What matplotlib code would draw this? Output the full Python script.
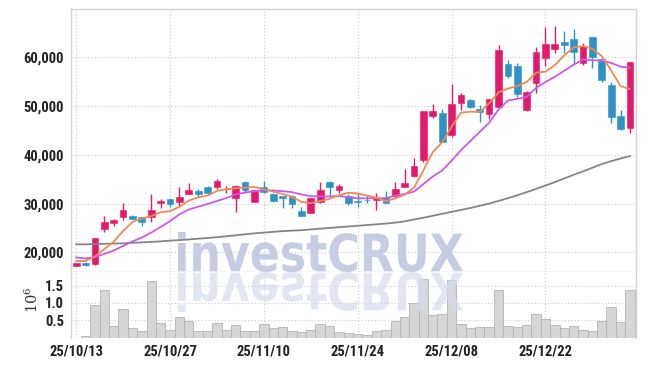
import numpy as np
import matplotlib
matplotlib.use('Agg')
import matplotlib.pyplot as plt
from matplotlib import font_manager as fm
from matplotlib.textpath import TextPath
from matplotlib.patches import PathPatch
from matplotlib.font_manager import FontProperties
from matplotlib.transforms import Affine2D

# ---------------- data ----------------
tick_idx = [0, 10, 20, 30, 40, 50]
tick_labels = ['25/10/13', '25/10/27', '25/11/10', '25/11/24', '25/12/08', '25/12/22']

opens = [17250, 17880, 17700, 24850, 26100, 27300, 27450, 27200, 27200, 30200,
         30850, 30400, 32050, 32600, 33450, 33350, 32900, 31050, 34350, 30400,
         33450, 31950, 31550, 31550, 28450, 28150, 30250, 34500, 32800, 31550,
         30500, 30750, 30750, 31400, 31550, 33350, 35650, 38950, 48050, 48550,
         44050, 50550, 51250, 49300, 48300, 49900, 58600, 58200, 49200, 54800,
         59950, 61750, 63050, 63750, 58750, 64100, 59650, 54300, 47950, 45450]
highs = [17900, 17950, 22900, 27450, 26750, 30050, 27650, 27300, 31950, 30850,
         30900, 33450, 34300, 32900, 33650, 34950, 33600, 33800, 34700, 32850,
         34700, 32250, 31650, 31750, 29250, 31200, 34400, 34550, 34000, 31900,
         32100, 31750, 32100, 32600, 34350, 37000, 39300, 49000, 50350, 49350,
         54500, 52600, 51500, 50200, 51500, 62500, 59450, 58900, 53100, 62050,
         66150, 66400, 65450, 65750, 62850, 64100, 59700, 55000, 49200, 59000]
lows = [17100, 17200, 17450, 24100, 25400, 26650, 26750, 25400, 26150, 29000,
        29350, 29550, 32000, 31400, 32150, 32900, 32100, 28350, 32100, 30300,
        32100, 30350, 29050, 29150, 27500, 28000, 30200, 31400, 32100, 29700,
        29250, 30050, 28600, 30100, 31400, 33300, 35400, 38600, 47500, 42550,
        43700, 49200, 49550, 46800, 47350, 49700, 55700, 51800, 49000, 52750,
        58300, 60800, 60800, 58550, 58400, 57750, 55000, 46450, 45100, 44400]
closes = [17800, 17470, 22850, 26200, 26600, 28700, 26900, 26300, 28700, 30500,
          29850, 31300, 32700, 32050, 32250, 34700, 33050, 33600, 32800, 32800,
          32450, 30550, 31200, 30000, 27550, 31050, 32800, 33450, 33600, 30200,
          30350, 30650, 31200, 30200, 32900, 34300, 37700, 49000, 48950, 42700,
          50400, 52250, 49900, 48850, 51450, 61500, 56250, 52450, 52950, 61000,
          62700, 62750, 62500, 61150, 62300, 60000, 55350, 47700, 45300, 58950]
# volume in millions of shares
volume_m = [0.0, 0.03, 0.93, 1.36, 0.32, 0.81, 0.26, 0.18, 1.64, 0.43,
            0.23, 0.58, 0.49, 0.20, 0.18, 0.43, 0.23, 0.35, 0.18, 0.18,
            0.38, 0.26, 0.29, 0.20, 0.17, 0.23, 0.38, 0.32, 0.15, 0.14,
            0.10, 0.08, 0.18, 0.23, 0.47, 0.58, 1.00, 1.70, 0.64, 0.67,
            1.67, 0.40, 0.26, 0.29, 0.29, 1.36, 0.32, 0.29, 0.35, 0.69,
            0.54, 0.35, 0.26, 0.32, 0.23, 0.20, 0.49, 0.89, 0.46, 1.36]
# closes of the 9 sessions before the first one shown (for the moving averages)
prior_closes = [19500, 19800, 20000, 19600, 19300, 17700, 18200, 18600, 19000]
# 60-day moving average
ma60 = [21650, 21650, 21700, 21750, 21800, 21850, 21950, 22050, 22150, 22250,
        22400, 22500, 22650, 22800, 22950, 23100, 23300, 23500, 23700, 23900,
        24050, 24200, 24350, 24450, 24550, 24700, 24850, 25000, 25150, 25300,
        25450, 25600, 25750, 25900, 26100, 26350, 26750, 27100, 27500, 27900,
        28300, 28700, 29100, 29550, 30000, 30550, 31100, 31700, 32350, 33000,
        33700, 34400, 35150, 35900, 36600, 37350, 38100, 38700, 39250, 39750]

# ---------------- derived ----------------
n = len(closes)
x = np.arange(n)
allc = np.array(prior_closes + closes, dtype=float)
def sma(arr, w):
    return np.convolve(arr, np.ones(w) / w, mode='valid')
off = len(prior_closes)
ma5 = sma(allc, 5)[off - 4:]
ma10 = sma(allc, 10)[off - 9:]

UP = '#e3196b'
DOWN = '#2e92c6'
C_MA5 = '#ef8a52'
C_MA10 = '#cd58ea'
C_MA60 = '#858585'
GRID = '#c9c9d9'
SPINE = '#d4d4d4'
TXT = '#222222'

# choose a condensed face if one is installed
cands = [('Roboto Condensed', 'normal', 10.5), ('DejaVu Sans', 'condensed', 10.0),
         ('Liberation Sans Narrow', 'normal', 10.5), ('Liberation Sans', 'normal', 9.0)]
tick_fp = None
for famname, stretch, size in cands:
    fp = FontProperties(family=famname, weight='bold', stretch=stretch, size=size)
    try:
        path = fm.findfont(fp, fallback_to_default=False)
    except Exception:
        continue
    low = path.lower()
    if stretch == 'condensed' and 'condensed' not in low:
        continue
    if famname == 'Roboto Condensed' and 'condensed' not in low:
        continue
    if famname == 'Liberation Sans Narrow' and 'narrow' not in low:
        continue
    tick_fp = FontProperties(fname=path, size=size)
    break

W, H = 645, 366
fig = plt.figure(figsize=(W / 100, H / 100), dpi=100)
L, R = 71, 636
ax = fig.add_axes([L / W, (H - 272) / H, (R - L) / W, (272 - 9) / H])
axv = fig.add_axes([L / W, (H - 337.5) / H, (R - L) / W, (337.5 - 272) / H], sharex=ax)

# candles
o = np.array(opens, float); c = np.array(closes, float)
hi = np.array(highs, float); lo = np.array(lows, float)
cols = [UP if cc >= oo else DOWN for oo, cc in zip(o, c)]
ax.vlines(x, lo, hi, colors=cols, linewidth=1.0, zorder=3)
body_bottom = np.minimum(o, c)
body_h = np.maximum(np.abs(c - o), 120)
ax.bar(x, body_h, bottom=body_bottom, width=0.72, color=cols, edgecolor=cols,
       linewidth=0.4, zorder=4)

ax.plot(x, ma60, color=C_MA60, lw=1.3, zorder=5)
ax.plot(x, ma10, color=C_MA10, lw=1.3, zorder=5)
ax.plot(x, ma5, color=C_MA5, lw=1.3, zorder=5)

ax.set_xlim(-0.55, 59.65)
ax.set_ylim(15970, 69900)
yt = [20000, 30000, 40000, 50000, 60000]
ax.set_yticks(yt)
ax.set_yticklabels([f'{v:,}' for v in yt])
ax.set_xticks(tick_idx)
ax.tick_params(axis='x', labelbottom=False, length=0)
ax.tick_params(axis='y', length=0, pad=5, labelcolor=TXT)
ax.grid(True, color=GRID, linestyle=(0, (1, 2)), linewidth=0.8)
ax.set_axisbelow(True)
for s in ax.spines.values():
    s.set_color(SPINE)
    s.set_linewidth(1.0)

# volume
axv.bar(x, volume_m, width=1.0, color='#d6d6d6', edgecolor='#b4b4b4', linewidth=0.6, zorder=2)
axv.set_ylim(0, 1.89)
axv.set_yticks([0.5, 1.0, 1.5])
axv.set_yticklabels(['0.5', '1.0', '1.5'])
axv.set_xticks(tick_idx)
axv.set_xticklabels(tick_labels)
axv.tick_params(axis='both', length=0, labelcolor=TXT)
axv.tick_params(axis='y', pad=5)
axv.tick_params(axis='x', pad=5)
axv.grid(True, color=GRID, linestyle=(0, (1, 2)), linewidth=0.8)
axv.set_axisbelow(True)
for s in axv.spines.values():
    s.set_color(SPINE)
    s.set_linewidth(1.0)
axv.spines['bottom'].set_visible(False)
axv.spines['top'].set_visible(False)

for lab in ax.get_yticklabels() + axv.get_yticklabels() + axv.get_xticklabels():
    if tick_fp is not None:
        lab.set_fontproperties(tick_fp)
    else:
        lab.set_fontsize(9)
        lab.set_fontweight('bold')

fig.text(32 / W, 1 - 300 / H, r'$10^{6}$', rotation=90, ha='center', va='center',
         fontsize=10.5, color='#333333', math_fontfamily='dejavuserif')

# watermark with reflection
tp = TextPath((0, 0), 'investCRUX', size=1,
              prop=FontProperties(family='DejaVu Sans', weight='bold'))
ext = tp.get_extents()
x0, x1, y0, y1 = 178, 463, 232, 272
sx = (x1 - x0) / ext.width
sy = (y1 - y0) / ext.height
base = Affine2D().translate(-ext.x0, -ext.y0)
to_fig = Affine2D().scale(1 / 100.0) + fig.dpi_scale_trans
t_main = base + Affine2D().scale(sx, sy).translate(x0, H - y1) + to_fig
t_refl = base + Affine2D().scale(sx, -sy).translate(x0, H - y1) + to_fig
ax.add_patch(PathPatch(tp, transform=t_main, facecolor='#c6cde3', edgecolor='none',
                       zorder=1, clip_on=False))
axv.add_patch(PathPatch(tp, transform=t_refl, facecolor='#d7dcec', edgecolor='none',
                        alpha=0.7, zorder=3, clip_on=True))

fig.savefig('out.png', dpi=100)
